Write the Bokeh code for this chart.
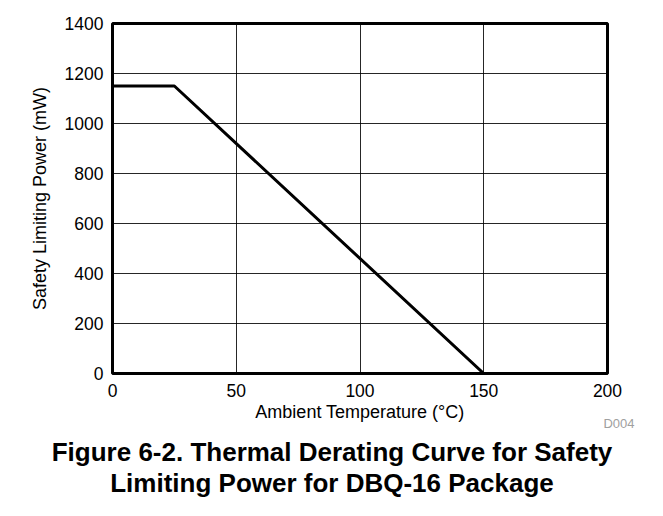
from bokeh.plotting import figure
from bokeh.models import FixedTicker, Title, Range1d
from bokeh.layouts import column
from bokeh.core.properties import value
from bokeh.embed import file_html
from bokeh.resources import INLINE

# Data
temperature_c = [0, 25, 150]
power_mw = [1150, 1150, 0]
x_ticks = [0, 50, 100, 150, 200]
y_ticks = [0, 200, 400, 600, 800, 1000, 1200, 1400]
x_label = "Ambient Temperature (°C)"
y_label = "Safety Limiting Power (mW)"
caption_lines = ["Figure 6-2. Thermal Derating Curve for Safety",
                 "Limiting Power for DBQ-16 Package"]
tag = "D004"

FONT = "Liberation Sans"
W = 647
H1 = 432
H_TOTAL = 508

p = figure(width=W, height=H1, x_range=(0, 200), y_range=(0, 1400),
           output_backend="svg", toolbar_location=None,
           min_border_left=112, min_border_right=40,
           min_border_top=23, min_border_bottom=H1 - 373)
p.frame_align = False
p.title.visible = False

p.outline_line_color = "black"
p.outline_line_width = 3
p.background_fill_color = "white"
p.border_fill_color = "white"

p.xaxis.ticker = FixedTicker(ticks=x_ticks)
p.yaxis.ticker = FixedTicker(ticks=y_ticks)
for ax in (p.xaxis, p.yaxis):
    ax.axis_line_color = None
    ax.major_tick_line_color = None
    ax.minor_tick_line_color = None
    ax.major_tick_out = 0
    ax.major_tick_in = 0
    ax.major_label_text_font = FONT
    ax.major_label_text_font_size = "17.5px"
    ax.major_label_text_color = "black"
    ax.axis_label_text_font = FONT
    ax.axis_label_text_font_size = "18px"
    ax.axis_label_text_font_style = "normal"
    ax.axis_label_text_color = "black"

p.xaxis.axis_label = x_label
p.yaxis.axis_label = y_label
p.xaxis.major_label_standoff = 10
p.yaxis.major_label_standoff = 9
p.xaxis.axis_label_standoff = 2
p.yaxis.axis_label_standoff = 12

p.xgrid.ticker = FixedTicker(ticks=x_ticks)
p.ygrid.ticker = FixedTicker(ticks=y_ticks)
p.grid.grid_line_color = "black"
p.grid.grid_line_width = 1
p.grid.grid_line_alpha = 0.85

p.line(temperature_c, power_mw, line_color="black", line_width=3)

# small figure id tag under the x axis, right side
p.add_layout(Title(text=tag, align="right", offset=-27, vertical_align="top",
                   standoff=-17, text_font=FONT, text_font_size="13px",
                   text_font_style="normal", text_color="#a0a0a0"), "below")

# caption figure
cap = figure(width=W, height=H_TOTAL - H1, output_backend="svg",
             toolbar_location=None,
             x_range=Range1d(0, W), y_range=Range1d(H_TOTAL, H1),
             min_border=0, min_border_left=0, min_border_right=0,
             min_border_top=0, min_border_bottom=0)
cap.frame_align = False
cap.title.visible = False
cap.axis.visible = False
cap.grid.visible = False
cap.outline_line_color = None
cap.background_fill_color = "white"
cap.border_fill_color = "white"
cap.text(x=[331.5, 331.5], y=[451, 482], text=caption_lines,
         text_font=value(FONT), text_font_size="26px",
         text_font_style="bold", text_align="center",
         text_baseline="alphabetic", text_color="black")

layout = column(p, cap, spacing=0)
open("out.html", "w").write(file_html(layout, INLINE))
